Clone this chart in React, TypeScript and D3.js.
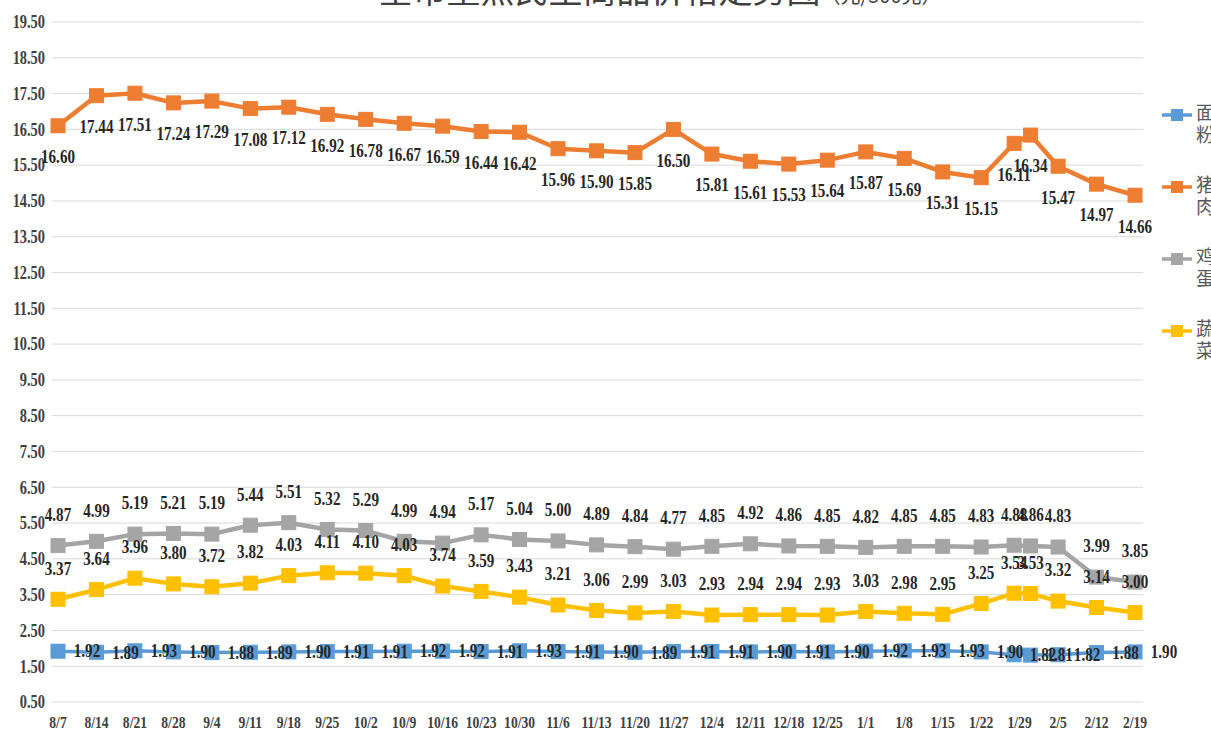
import React, { useRef, useEffect } from "react";
import * as d3 from "d3";

const width = 1211;
const height = 738;

// weekly observation dates (two readings around the spring festival)
const dates = [
  "2019-08-07", "2019-08-14", "2019-08-21", "2019-08-28", "2019-09-04", "2019-09-11",
  "2019-09-18", "2019-09-25", "2019-10-02", "2019-10-09", "2019-10-16", "2019-10-23",
  "2019-10-30", "2019-11-06", "2019-11-13", "2019-11-20", "2019-11-27", "2019-12-04",
  "2019-12-11", "2019-12-18", "2019-12-25", "2020-01-01", "2020-01-08", "2020-01-15",
  "2020-01-22", "2020-01-28", "2020-01-31", "2020-02-05", "2020-02-12", "2020-02-19",
];

const tickLabels = [
  "8/7", "8/14", "8/21", "8/28", "9/4", "9/11", "9/18", "9/25", "10/2", "10/9",
  "10/16", "10/23", "10/30", "11/6", "11/13", "11/20", "11/27", "12/4", "12/11",
  "12/18", "12/25", "1/1", "1/8", "1/15", "1/22", "1/29", "2/5", "2/12", "2/19",
];

const flour = [
  1.92, 1.89, 1.93, 1.9, 1.88, 1.89, 1.9, 1.91, 1.91, 1.92, 1.92, 1.91, 1.93, 1.91, 1.9,
  1.89, 1.91, 1.91, 1.9, 1.91, 1.9, 1.92, 1.93, 1.93, 1.9, 1.82, 1.81, 1.82, 1.88, 1.9,
];
const pork = [
  16.6, 17.44, 17.51, 17.24, 17.29, 17.08, 17.12, 16.92, 16.78, 16.67, 16.59, 16.44, 16.42,
  15.96, 15.9, 15.85, 16.5, 15.81, 15.61, 15.53, 15.64, 15.87, 15.69, 15.31, 15.15, 16.11,
  16.34, 15.47, 14.97, 14.66,
];
const eggs = [
  4.87, 4.99, 5.19, 5.21, 5.19, 5.44, 5.51, 5.32, 5.29, 4.99, 4.94, 5.17, 5.04, 5.0, 4.89,
  4.84, 4.77, 4.85, 4.92, 4.86, 4.85, 4.82, 4.85, 4.85, 4.83, 4.88, 4.86, 4.83, 3.99, 3.85,
];
const vegetables = [
  3.37, 3.64, 3.96, 3.8, 3.72, 3.82, 4.03, 4.11, 4.1, 4.03, 3.74, 3.59, 3.43, 3.21, 3.06,
  2.99, 3.03, 2.93, 2.94, 2.94, 2.93, 3.03, 2.98, 2.95, 3.25, 3.54, 3.53, 3.32, 3.14, 3.0,
];

const seriesNames = ["面粉", "猪肉", "鸡蛋", "蔬菜"];
const seriesColors = ["#5b9bd5", "#ed7d31", "#a5a5a5", "#ffc000"];
const labelPos = ["right", "below", "above", "above"];

const yTicks = d3.range(0.5, 19.6, 1);

const numFont = "'Liberation Serif', 'Times New Roman', serif";
const cjkFont = "'Noto Sans CJK SC', sans-serif";

export default function App() {
  const ref = useRef<SVGSVGElement | null>(null);

  useEffect(() => {
    const svg = d3.select(ref.current);
    svg.selectAll("*").remove();

    const parse = d3.utcParse("%Y-%m-%d");
    const xs = dates.map((d) => parse(d)!);
    const tickDates = tickLabels.map((t) => {
      const [m, d] = t.split("/").map(Number);
      return new Date(Date.UTC(m >= 8 ? 2019 : 2020, m - 1, d));
    });

    const x = d3.scaleUtc().domain([xs[0], xs[xs.length - 1]]).range([58, 1135]);
    const y = d3.scaleLinear().domain([0.5, 19.5]).range([702, 22]);

    // title (mostly cropped at top)
    const title = svg.append("text")
      .attr("x", 660)
      .attr("y", 3)
      .attr("text-anchor", "middle")
      .attr("font-family", cjkFont)
      .attr("fill", "#404040");
    title.append("tspan").attr("font-size", 34).text("全市重点民生商品价格走势图");
    title.append("tspan").attr("font-size", 20).text("（元/500克）");

    // grid
    svg.append("g")
      .selectAll("line")
      .data(yTicks)
      .enter()
      .append("line")
      .attr("x1", 52)
      .attr("x2", 1143)
      .attr("y1", (d) => y(d))
      .attr("y2", (d) => y(d))
      .attr("stroke", "#d9d9d9")
      .attr("stroke-width", 1);

    // y tick labels
    svg.append("g")
      .selectAll("text")
      .data(yTicks)
      .enter()
      .append("text")
      .attr("transform", (d) => `translate(45,${y(d)}) scale(0.8,1)`)
      .attr("dy", "0.35em")
      .attr("text-anchor", "end")
      .attr("font-family", numFont)
      .attr("font-weight", "bold")
      .attr("font-size", 18)
      .attr("fill", "#404040")
      .text((d) => d.toFixed(2));

    // x tick labels
    svg.append("g")
      .selectAll("text")
      .data(tickDates)
      .enter()
      .append("text")
      .attr("transform", (d) => `translate(${x(d)},722) scale(0.8,1)`)
      .attr("dy", "0.35em")
      .attr("text-anchor", "middle")
      .attr("font-family", numFont)
      .attr("font-weight", "bold")
      .attr("font-size", 17)
      .attr("fill", "#404040")
      .text((d, i) => tickLabels[i]);

    const allSeries = [flour, pork, eggs, vegetables];
    const line = d3.line<number>()
      .x((d, i) => x(xs[i]))
      .y((d) => y(d));

    const ms = 14;
    allSeries.forEach((values, s) => {
      const g = svg.append("g");
      g.append("path")
        .datum(values)
        .attr("d", line)
        .attr("fill", "none")
        .attr("stroke", seriesColors[s])
        .attr("stroke-width", s === 0 ? 3.5 : 4.5)
        .attr("stroke-linejoin", "round");
      g.selectAll("rect")
        .data(values)
        .enter()
        .append("rect")
        .attr("x", (d, i) => x(xs[i]) - ms / 2)
        .attr("y", (d) => y(d) - ms / 2)
        .attr("width", ms)
        .attr("height", ms)
        .attr("fill", seriesColors[s])
        .attr("stroke", seriesColors[s])
        .attr("stroke-width", 1);
    });

    // data labels
    allSeries.forEach((values, s) => {
      const pos = labelPos[s];
      svg.append("g")
        .selectAll("text")
        .data(values)
        .enter()
        .append("text")
        .attr("transform", (d, i) => {
          let lx = x(xs[i]);
          let ly = y(d);
          if (pos === "right") lx += 29;
          if (pos === "below") ly += 31;
          if (pos === "above") ly -= 31;
          return `translate(${lx},${ly}) scale(0.84,1)`;
        })
        .attr("dy", "0.35em")
        .attr("text-anchor", "middle")
        .attr("font-family", numFont)
        .attr("font-weight", "bold")
        .attr("font-size", 18)
        .attr("fill", "#262626")
        .text((d) => d.toFixed(2));
    });

    // legend (vertical names, cut by right edge)
    const legend = svg.append("g");
    seriesNames.forEach((name, s) => {
      const ly = 115 + s * 72;
      legend.append("line")
        .attr("x1", 1162)
        .attr("x2", 1192)
        .attr("y1", ly)
        .attr("y2", ly)
        .attr("stroke", seriesColors[s])
        .attr("stroke-width", 3.5);
      legend.append("rect")
        .attr("x", 1171)
        .attr("y", ly - 6)
        .attr("width", 12)
        .attr("height", 12)
        .attr("fill", seriesColors[s]);
      name.split("").forEach((ch, k) => {
        legend.append("text")
          .attr("x", 1196)
          .attr("y", ly - 2 + k * 22)
          .attr("dy", "0.35em")
          .attr("font-family", cjkFont)
          .attr("font-size", 19)
          .attr("fill", "#595959")
          .text(ch);
      });
    });
  }, []);

  return (
    <div style={{ position: "absolute", left: 0, top: 0, width, height, overflow: "hidden", background: "#fff" }}>
      <svg ref={ref} width={width} height={height} style={{ display: "block" }} />
    </div>
  );
}
